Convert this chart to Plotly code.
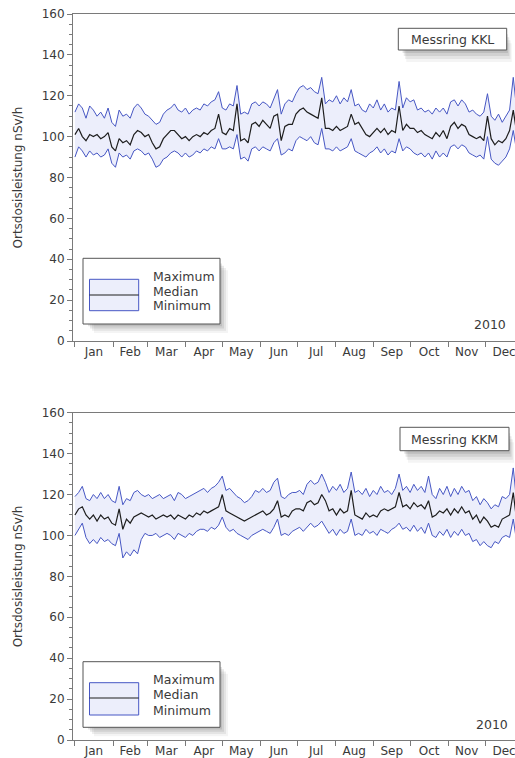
import pandas as pd
import plotly.graph_objects as go

# ---------------- data (sampled every 3 days, starting 1 Jan 2010) ----------------
start_date = "2010-01-01"
step_days = 3
month_labels = ["Jan", "Feb", "Mar", "Apr", "May", "Jun", "Jul", "Aug", "Sep", "Oct", "Nov", "Dec"]
y_ticks = [0, 20, 40, 60, 80, 100, 120, 140, 160]

kkl_max = [112, 116, 114, 109, 115, 113, 110, 112, 109, 114, 107, 105, 113, 110, 111, 109, 114, 116, 114, 111,
           110, 108, 106, 107, 111, 113, 114, 116, 113, 112, 114, 111, 113, 114, 113, 116, 115, 117, 118, 122,
           114, 113, 116, 115, 125, 111, 112, 111, 116, 117, 115, 117, 116, 114, 119, 123, 111, 116, 118, 117,
           121, 124, 125, 123, 124, 122, 121, 129, 116, 118, 117, 120, 116, 119, 117, 123, 115, 116, 113, 112,
           116, 114, 118, 113, 116, 112, 114, 113, 127, 114, 119, 117, 118, 113, 114, 112, 113, 111, 114, 112,
           114, 111, 117, 118, 115, 118, 116, 112, 113, 111, 110, 112, 121, 110, 108, 111, 107, 110, 113, 129,
           112, 110]
kkl_med = [101, 104, 100, 98, 101, 100, 101, 99, 100, 102, 95, 93, 99, 97, 98, 96, 101, 103, 102, 100,
           101, 97, 94, 95, 99, 101, 103, 103, 101, 99, 100, 98, 100, 101, 100, 102, 101, 103, 104, 111,
           102, 101, 104, 103, 116, 98, 99, 97, 106, 107, 105, 108, 106, 104, 110, 111, 98, 105, 106, 106,
           111, 113, 114, 112, 111, 110, 109, 119, 104, 104, 103, 105, 103, 104, 105, 111, 106, 107, 104, 101,
           100, 102, 104, 102, 104, 101, 103, 102, 115, 103, 106, 104, 104, 102, 103, 101, 100, 99, 102, 100,
           103, 99, 105, 107, 104, 106, 105, 101, 100, 99, 100, 98, 110, 99, 96, 98, 97, 99, 103, 113,
           101, 100]
kkl_min = [90, 95, 93, 90, 93, 91, 92, 90, 91, 94, 87, 85, 92, 90, 91, 89, 93, 94, 93, 91,
           92, 89, 85, 86, 89, 90, 92, 93, 92, 90, 92, 90, 91, 93, 92, 94, 93, 95, 94, 99,
           94, 94, 95, 94, 101, 89, 90, 88, 94, 95, 93, 95, 94, 93, 97, 99, 91, 92, 94, 93,
           98, 100, 99, 98, 100, 97, 96, 104, 94, 94, 93, 95, 93, 94, 95, 99, 93, 92, 91, 90,
           92, 93, 95, 92, 94, 91, 93, 92, 99, 93, 95, 94, 92, 91, 92, 90, 92, 89, 93, 90,
           92, 90, 95, 96, 94, 96, 95, 92, 91, 90, 91, 89, 100, 89, 87, 86, 88, 90, 94, 103,
           92, 91]

kkm_max = [119, 121, 124, 118, 117, 120, 118, 121, 118, 120, 117, 116, 124, 115, 118, 117, 121, 122, 120, 119,
           120, 118, 119, 120, 118, 119, 120, 117, 121, 120, 118, 119, 120, 121, 122, 123, 121, 123, 124, 126,
           129, 122, 123, 121, 119, 118, 116, 117, 119, 122, 121, 123, 121, 122, 126, 128, 119, 118, 120, 121,
           121, 122, 120, 125, 127, 125, 126, 130, 126, 121, 124, 122, 125, 121, 123, 131, 121, 122, 120, 123,
           119, 122, 120, 124, 121, 122, 120, 123, 130, 122, 124, 121, 125, 122, 124, 121, 129, 120, 118, 123,
           120, 124, 119, 123, 120, 124, 121, 122, 117, 119, 115, 118, 116, 113, 115, 114, 119, 118, 120, 133,
           115, 116]
kkm_med = [110, 113, 114, 110, 108, 110, 107, 110, 108, 109, 106, 105, 113, 103, 108, 106, 109, 110, 111, 110,
           109, 110, 108, 109, 110, 109, 110, 108, 110, 109, 108, 110, 109, 111, 110, 112, 111, 112, 113, 114,
           120, 112, 111, 110, 109, 108, 107, 108, 109, 110, 111, 112, 110, 111, 113, 117, 109, 110, 109, 112,
           113, 113, 112, 116, 117, 115, 116, 120, 117, 112, 113, 110, 113, 111, 112, 122, 110, 109, 108, 111,
           109, 110, 109, 112, 113, 112, 113, 114, 121, 114, 115, 113, 116, 114, 115, 113, 117, 109, 110, 112,
           111, 113, 110, 113, 111, 114, 111, 112, 108, 110, 106, 109, 107, 104, 105, 104, 108, 109, 110, 121,
           106, 107]
kkm_min = [100, 103, 106, 99, 96, 98, 96, 99, 97, 98, 96, 95, 101, 89, 92, 90, 93, 91, 98, 101,
           100, 100, 101, 99, 100, 101, 100, 98, 101, 100, 99, 101, 100, 102, 103, 103, 102, 104, 103, 105,
           109, 104, 102, 103, 101, 100, 99, 98, 100, 101, 102, 103, 102, 101, 104, 108, 100, 101, 100, 102,
           103, 104, 102, 104, 106, 104, 105, 107, 104, 101, 103, 100, 103, 101, 102, 108, 100, 101, 100, 103,
           101, 102, 100, 103, 102, 101, 103, 104, 106, 103, 104, 102, 105, 102, 104, 101, 106, 100, 99, 102,
           100, 103, 99, 102, 100, 103, 100, 101, 97, 98, 95, 97, 95, 94, 97, 96, 99, 100, 99, 108,
           96, 97]

station_labels = ["Messring KKL", "Messring KKM"]
year_label = "2010"
legend_labels = ["Maximum", "Median", "Minimum"]
y_title = "Ortsdosisleistung nSv/h"

# ---------------- styling ----------------
FONT = "DejaVu Sans"
TXT = "#3a3a3a"
AXC = "#7a7a7a"
BLUE = "#4757c4"
FILL = "rgba(236,238,251,1)"
MED = "#1e1e1e"

W, H = 515, 758
ML, MR, MT, MB = 73, 0, 14, 18
PW, PH = W - ML - MR, H - MT - MB


def px(x):
    return (x - ML) / PW


def py(y):
    return (H - MB - y) / PH


dates = pd.date_range(start_date, periods=len(kkl_max), freq=f"{step_days}D")
month_starts = pd.date_range("2010-01-01", periods=13, freq="MS")
month_mids = [a + (b - a) / 2 for a, b in zip(month_starts[:-1], month_starts[1:])]

fig = go.Figure()
series = [(kkl_max, kkl_med, kkl_min, "x", "y"), (kkm_max, kkm_med, kkm_min, "x2", "y2")]
for smax, smed, smin, xa, ya in series:
    fig.add_trace(go.Scatter(x=dates, y=smin, mode="lines", line=dict(color=BLUE, width=1),
                             xaxis=xa, yaxis=ya, showlegend=False, hoverinfo="skip"))
    fig.add_trace(go.Scatter(x=dates, y=smax, mode="lines", line=dict(color=BLUE, width=1),
                             fill="tonexty", fillcolor=FILL,
                             xaxis=xa, yaxis=ya, showlegend=False, hoverinfo="skip"))
    fig.add_trace(go.Scatter(x=dates, y=smed, mode="lines", line=dict(color=MED, width=1.2),
                             xaxis=xa, yaxis=ya, showlegend=False, hoverinfo="skip"))

x_range = ["2009-12-30 10:00", "2010-12-25 10:00"]
top_dom = [py(341), 1.0]
bot_dom = [0.0, py(412.7)]

xaxis_common = dict(
    type="date", range=x_range, tickvals=month_mids, ticktext=month_labels, ticks="",
    minor=dict(tick0="2010-01-01", dtick="M1", ticks="outside", ticklen=5, tickcolor=AXC, tickwidth=1),
    showline=True, linecolor=AXC, linewidth=1, mirror=True, showgrid=False, zeroline=False,
    tickfont=dict(family=FONT, size=12, color=TXT), domain=[0, 1], automargin=False,
    ticklabeloverflow="allow",
)
yaxis_common = dict(
    range=[0, 160], tickvals=y_ticks, ticks="outside", ticklen=5, tickcolor=AXC,
    showline=True, linecolor=AXC, linewidth=1, showgrid=False, zeroline=False,
    tickfont=dict(family=FONT, size=12, color=TXT), automargin=False,
    minor=dict(dtick=5, ticks="outside", ticklen=3, tickcolor=AXC),
)

fig.update_layout(
    width=W, height=H, autosize=False,
    margin=dict(l=ML, r=MR, t=MT, b=MB, pad=0, autoexpand=False),
    paper_bgcolor="white", plot_bgcolor="white",
    xaxis=dict(**xaxis_common, anchor="y"),
    yaxis=dict(**yaxis_common, domain=top_dom, anchor="x"),
    xaxis2=dict(**xaxis_common, anchor="y2"),
    yaxis2=dict(**yaxis_common, domain=bot_dom, anchor="x2"),
    showlegend=False,
)

shapes = []
annos = []


def shadow_rect(x0, y0, x1, y1, dx, dy):
    for k, op in [(1.0, 0.06), (0.75, 0.09), (0.5, 0.12), (0.25, 0.14)]:
        shapes.append(dict(type="rect", xref="paper", yref="paper",
                           x0=px(x0 + dx * k + 3), x1=px(x1 + dx * k), y0=py(y1 + dy * k), y1=py(y0 + dy * k + 3),
                           line=dict(width=0), fillcolor=f"rgba(70,70,70,{op})", layer="above"))


def box(x0, y0, x1, y1):
    shapes.append(dict(type="rect", xref="paper", yref="paper",
                       x0=px(x0), x1=px(x1), y0=py(y1), y1=py(y0),
                       line=dict(color="#555555", width=1), fillcolor="white", layer="above"))


panels = [
    dict(leg_top=258.3, leg_bot=324.0, sw_top=279.3, sw_bot=310.7, sw_mid=295.0,
         t_y=[276.0, 291.0, 306.0], st=(398.3, 28.3, 506.7, 50.0), yr=(490, 324.0), name=station_labels[0]),
    dict(leg_top=661.7, leg_bot=727.3, sw_top=682.7, sw_bot=715.0, sw_mid=698.0,
         t_y=[679.3, 694.3, 710.0], st=(400.0, 427.3, 509.0, 450.7), yr=(492, 724.3), name=station_labels[1]),
]

for p in panels:
    shadow_rect(83, p["leg_top"], 220, p["leg_bot"], 8, 9)
    box(83, p["leg_top"], 220, p["leg_bot"])
    shapes.append(dict(type="rect", xref="paper", yref="paper",
                       x0=px(89.5), x1=px(138.7), y0=py(p["sw_bot"]), y1=py(p["sw_top"]),
                       line=dict(color=BLUE, width=1), fillcolor=FILL, layer="above"))
    shapes.append(dict(type="line", xref="paper", yref="paper",
                       x0=px(89.5), x1=px(138.7), y0=py(p["sw_mid"]), y1=py(p["sw_mid"]),
                       line=dict(color=MED, width=1.2), layer="above"))
    for lab, ty in zip(legend_labels, p["t_y"]):
        annos.append(dict(xref="paper", yref="paper", x=px(150.5), y=py(ty), text=lab,
                          showarrow=False, xanchor="left", yanchor="middle",
                          font=dict(family=FONT, size=12.5, color=TXT)))
    x0, y0, x1, y1 = p["st"]
    shadow_rect(x0, y0, x1, y1, 5, 12)
    box(x0, y0, x1, y1)
    annos.append(dict(xref="paper", yref="paper", x=px((x0 + x1) / 2), y=py((y0 + y1) / 2),
                      text=p["name"], showarrow=False, xanchor="center", yanchor="middle",
                      font=dict(family=FONT, size=12.5, color=TXT)))
    annos.append(dict(xref="paper", yref="paper", x=px(p["yr"][0]), y=py(p["yr"][1]),
                      text=year_label, showarrow=False, xanchor="center", yanchor="middle",
                      font=dict(family=FONT, size=12.5, color=TXT)))

for yc in [(14 + 341) / 2, (412.7 + 740) / 2]:
    annos.append(dict(xref="paper", yref="paper", x=px(18), y=py(yc), text=y_title,
                      textangle=-90, showarrow=False, xanchor="center", yanchor="middle",
                      font=dict(family=FONT, size=12, color=TXT)))

fig.update_layout(shapes=shapes, annotations=annos)
fig.write_html(
    "out.html",
    config={"displayModeBar": False},
    post_script="document.body.style.margin='0';document.body.style.overflow='hidden';",
)
